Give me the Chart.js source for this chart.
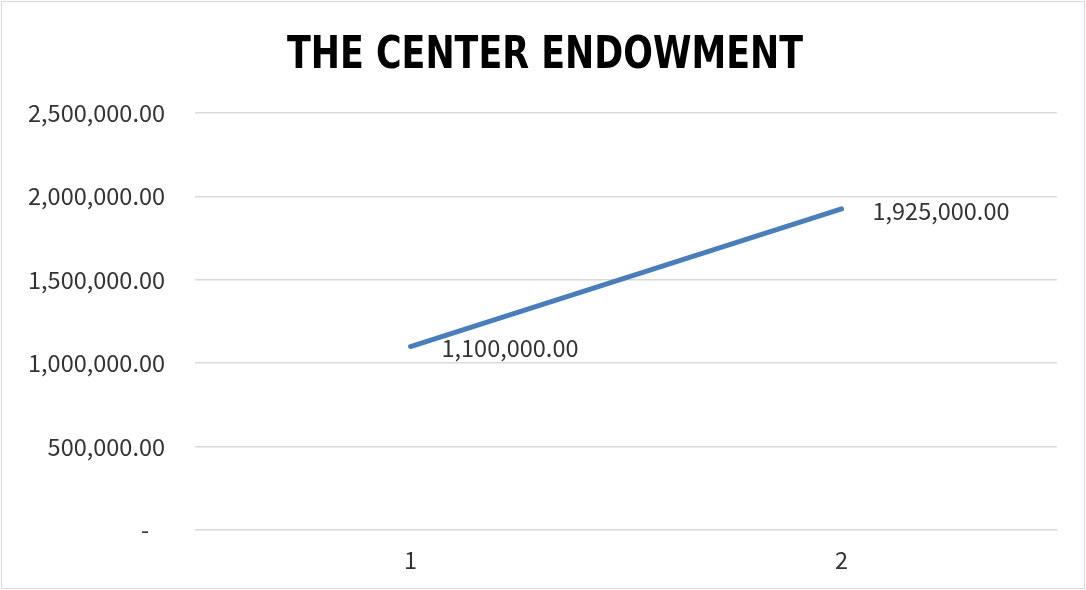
<!DOCTYPE html>
<html>
<head>
<meta charset="utf-8">
<script src="https://cdn.jsdelivr.net/npm/chart.js@4"></script>
<style>
  html, body { margin: 0; padding: 0; background: #fff; }
  #wrap { position: relative; width: 1086px; height: 590px; }
  #frame { position: absolute; left: 1px; top: 1px; width: 1082px; height: 586px; border: 1px solid #d9d9d9; pointer-events: none; }
</style>
</head>
<body>
<div id="wrap">
  <canvas id="line-chart" width="1086" height="590"></canvas>
  <div id="frame"></div>
</div>
<script>
const categories = ['1', '2'];
const endowment = [1100000, 1925000];
const yTicks = [0, 500000, 1000000, 1500000, 2000000, 2500000];
const chartTitle = 'THE CENTER ENDOWMENT';

const fmt = v => v.toLocaleString('en-US', { minimumFractionDigits: 2, maximumFractionDigits: 2 });
const textFont = '"Noto Sans CJK KR", "Noto Sans", sans-serif';

// etiquetas de datos a la derecha de cada punto
const valueLabels = {
  id: 'valueLabels',
  afterDatasetsDraw(chart) {
    const ctx = chart.ctx;
    const meta = chart.getDatasetMeta(0);
    ctx.save();
    ctx.font = '23.5px ' + textFont;
    ctx.fillStyle = '#333';
    ctx.textAlign = 'left';
    ctx.textBaseline = 'middle';
    meta.data.forEach((pt, i) => {
      ctx.fillText(fmt(endowment[i]), pt.x + 31, pt.y + 2);
    });
    ctx.restore();
  }
};

// título condensado (estilo Excel)
const condensedTitle = {
  id: 'condensedTitle',
  afterDraw(chart) {
    const ctx = chart.ctx;
    ctx.save();
    ctx.font = 'bold 45px "DejaVu Sans", sans-serif';
    if ('fontStretch' in ctx) ctx.fontStretch = 'condensed';
    ctx.fillStyle = '#000';
    ctx.textAlign = 'center';
    ctx.textBaseline = 'middle';
    const w = ctx.measureText(chartTitle).width;
    const sx = 516 / w;
    ctx.translate(545, 56);
    ctx.scale(sx, 1);
    ctx.fillText(chartTitle, 0, 0);
    ctx.restore();
  }
};

const ctx = document.getElementById('line-chart').getContext('2d');
new Chart(ctx, {
  type: 'line',
  data: {
    labels: categories,
    datasets: [{
      label: 'The Center Endowment',
      data: endowment,
      borderColor: '#4a7ebb',
      borderWidth: 5,
      borderCapStyle: 'round',
      pointRadius: 0,
      tension: 0,
    }],
  },
  options: {
    responsive: false,
    animation: false,
    layout: { padding: { top: 113, right: 29, bottom: 0, left: 0 } },
    plugins: {
      legend: { display: false },
      tooltip: { enabled: false },
      title: { display: false },
    },
    scales: {
      x: {
        offset: true,
        afterFit: s => { s.height = 60; },
        grid: { display: false, drawTicks: false },
        border: { display: false },
        ticks: { color: '#333', padding: 16, font: { family: textFont, size: 23.5, lineHeight: 1.2 } },
      },
      y: {
        min: 0,
        max: 2500000,
        afterBuildTicks: s => { s.ticks = yTicks.map(v => ({ value: v })); },
        afterFit: s => { s.width = 195; },
        grid: { color: '#d9d9d9', lineWidth: 1.5, drawTicks: false },
        border: { display: false },
        ticks: {
          color: '#333',
          padding: 30,
          font: { family: textFont, size: 23.5 },
          callback: v => (v === 0 ? '-   ' : fmt(v)),
        },
      },
    },
  },
  plugins: [valueLabels, condensedTitle],
});
</script>
</body>
</html>
